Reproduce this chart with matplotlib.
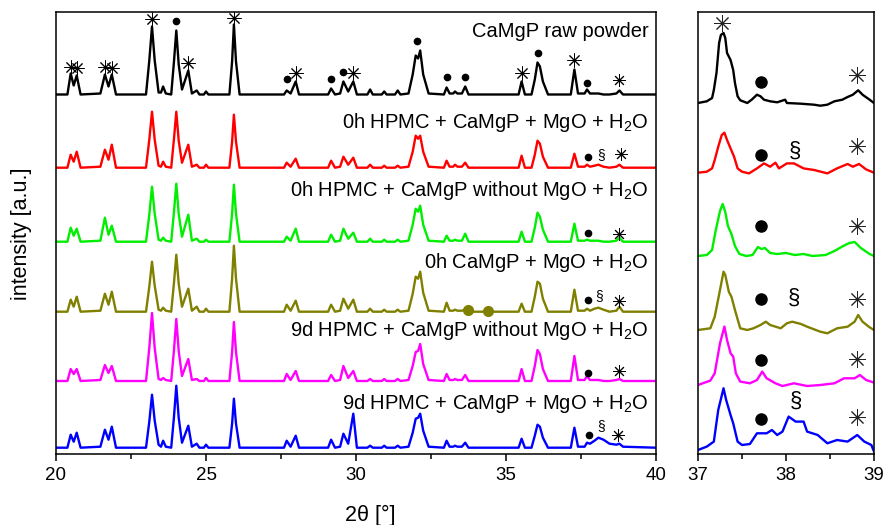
import numpy as np
import matplotlib
matplotlib.use("Agg")
import matplotlib.pyplot as plt

plt.rcParams['font.family'] = ['Liberation Sans', 'DejaVu Sans']
plt.rcParams['mathtext.fontset'] = 'custom'
plt.rcParams['mathtext.rm'] = 'Liberation Sans'

# ==========================
# Dati - pannello sinistro (20-40 deg), griglia comune
# ==========================
two_theta = [20.00, 20.38, 20.49, 20.59, 20.69, 20.82, 21.48, 21.63, 21.75, 21.86,
             22.00, 23.00, 23.11, 23.20, 23.29, 23.42, 23.50, 23.57, 23.66, 23.84,
             23.93, 24.01, 24.09, 24.20, 24.41, 24.53, 24.69, 24.78, 24.93, 25.00,
             25.08, 25.78, 25.87, 25.93, 26.00, 26.12, 27.60, 27.69, 27.82, 27.99,
             28.10, 29.07, 29.17, 29.30, 29.47, 29.58, 29.74, 29.91, 30.03, 30.38,
             30.47, 30.56, 30.86, 30.94, 31.02, 31.30, 31.39, 31.48, 31.75, 31.89,
             31.99, 32.07, 32.14, 32.24, 32.42, 32.93, 33.02, 33.12, 33.24, 33.30,
             33.38, 33.53, 33.64, 33.75, 35.42, 35.52, 35.63, 35.85, 35.96, 36.05,
             36.13, 36.23, 36.40, 37.16, 37.28, 37.40, 37.62, 37.70, 37.80, 37.95,
             38.08, 38.25, 38.45, 38.68, 38.78, 38.90, 40.00]

i_raw = [0, 0, 21, 9, 19, 0, 1, 20, 8, 20,
         0, 0, 34, 68, 34, 2, 2, 8, 1, 0,
         32, 64, 30, 5, 24, 1, 4, 0, 0, 3,
         0, 0, 33, 70, 33, 0, 0, 4, 1, 13,
         0, 0, 6, 0, 1, 13, 3, 13, 0, 0,
         5, 0, 0, 3, 0, 0, 4, 0, 1, 20,
         39, 36, 44, 20, 1, 0, 7, 1, 1, 3,
         1, 1, 8, 0, 0, 13, 0, 0, 15, 32,
         28, 13, 0, 0, 25, 1, 1, 5, 1, 1,
         1, 0, 0, 1, 4, 0, 0]
i_0h_hpmc_mgo = [0, 0, 13, 6, 16, 0, 1, 18, 8, 23,
                 0, 0, 28, 56, 28, 2, 1, 6, 1, 0,
                 28, 56, 27, 5, 23, 1, 3, 0, 0, 3,
                 0, 0, 26, 53, 26, 0, 0, 5, 1, 9,
                 0, 0, 7, 0, 1, 11, 3, 10, 0, 0,
                 3, 0, 0, 2, 0, 0, 2, 0, 1, 16,
                 32, 29, 32, 16, 1, 0, 7, 1, 1, 3,
                 1, 1, 5, 0, 0, 12, 0, 0, 13, 27,
                 24, 11, 0, 0, 14, 1, 1, 3, 1, 2,
                 3, 1, 0, 1, 3, 0, 0]
i_0h_hpmc_nomgo = [0, 0, 14, 6, 13, 0, 1, 24, 7, 16,
                   0, 0, 27, 55, 28, 2, 1, 4, 1, 0,
                   29, 58, 28, 5, 27, 1, 3, 0, 0, 2,
                   0, 0, 28, 57, 28, 0, 0, 5, 1, 13,
                   0, 0, 7, 0, 1, 13, 3, 9, 0, 0,
                   3, 0, 0, 2, 0, 0, 2, 0, 1, 17,
                   33, 30, 36, 17, 1, 0, 6, 1, 1, 2,
                   1, 1, 8, 0, 0, 10, 0, 0, 14, 29,
                   25, 12, 0, 0, 18, 1, 1, 2, 1, 1,
                   1, 0, 0, 1, 4, 0, 0]
i_0h_mgo = [0, 0, 12, 5, 15, 0, 1, 18, 7, 20,
            0, 0, 25, 50, 26, 2, 1, 4, 1, 0,
            28, 57, 28, 5, 23, 1, 5, 0, 0, 3,
            0, 0, 33, 66, 33, 0, 0, 7, 1, 11,
            0, 0, 7, 0, 1, 13, 3, 12, 0, 0,
            3, 0, 0, 2, 0, 0, 2, 0, 1, 18,
            35, 33, 40, 19, 1, 0, 9, 1, 1, 2,
            1, 1, 2, 0, 0, 8, 0, 0, 15, 30,
            28, 13, 0, 0, 22, 1, 1, 3, 1, 3,
            4, 2, 0, 1, 5, 0, 0]
i_9d_hpmc_nomgo = [0, 0, 12, 7, 12, 0, 1, 16, 8, 15,
                   0, 0, 33, 68, 33, 2, 1, 3, 1, 0,
                   30, 62, 30, 5, 22, 1, 2, 0, 0, 3,
                   0, 0, 29, 59, 29, 0, 0, 7, 1, 10,
                   0, 0, 6, 0, 1, 15, 3, 10, 0, 0,
                   2, 0, 0, 2, 0, 0, 2, 0, 1, 15,
                   29, 30, 37, 17, 1, 0, 7, 1, 1, 2,
                   1, 1, 6, 0, 0, 12, 0, 0, 15, 31,
                   27, 12, 0, 0, 25, 1, 1, 5, 1, 1,
                   1, 0, 0, 1, 2, 0, 0]
i_9d_hpmc_mgo = [0, 0, 13, 6, 15, 0, 1, 18, 8, 21,
                 0, 0, 26, 53, 27, 3, 1, 7, 1, 0,
                 30, 62, 30, 5, 22, 1, 4, 0, 0, 3,
                 0, 0, 24, 49, 24, 0, 0, 7, 1, 12,
                 0, 0, 8, 0, 1, 14, 4, 34, 0, 0,
                 2, 0, 0, 2, 0, 0, 2, 0, 1, 15,
                 29, 30, 34, 17, 1, 0, 7, 1, 1, 2,
                 1, 1, 5, 0, 0, 9, 0, 0, 12, 23,
                 21, 10, 0, 0, 20, 1, 1, 5, 4, 7,
                 10, 8, 4, 3, 4, 1, 0]

labels = ["CaMgP raw powder",
          "0h HPMC + CaMgP + MgO + H$_2$O",
          "0h HPMC + CaMgP without MgO + H$_2$O",
          "0h CaMgP + MgO + H$_2$O",
          "9d HPMC + CaMgP without MgO + H$_2$O",
          "9d HPMC + CaMgP + MgO + H$_2$O"]
colors = ['black', '#ff0000', '#00ee00', '#808000', '#ff00ff', '#0000ff']
left_series = [i_raw, i_0h_hpmc_mgo, i_0h_hpmc_nomgo, i_0h_mgo, i_9d_hpmc_nomgo, i_9d_hpmc_mgo]
left_offsets = [359.5, 286.3, 212.3, 142.3, 73.0, 6.3]
label_y = [417.3, 325.7, 258.3, 186.3, 118.3, 44.7]

# marcatori fasi (pannello sinistro)
ast_raw_x = [20.49, 20.69, 21.63, 21.86, 23.20, 24.41, 25.93, 27.99, 29.91, 35.52, 37.28]
ast_raw_y = [387.3, 385.7, 387.3, 386.3, 435.0, 391.3, 435.7, 380.7, 380.7, 380.7, 394.0]
dot_raw_x = [24.01, 27.69, 29.17, 29.58, 32.04, 33.02, 33.64, 36.05, 37.70]
dot_raw_y = [433.3, 375.0, 374.7, 381.7, 413.0, 376.7, 377.3, 401.3, 371.3]
ast_small_x = [38.78, 38.82, 38.78, 38.78, 38.75, 38.72]
ast_small_y = [374.0, 299.7, 219.7, 153.3, 83.3, 19.0]
dot_rows_x = [37.72, 37.72, 37.74, 37.74, 37.75]
dot_rows_y = [297.3, 220.7, 154.0, 81.3, 19.0]
sect_x = [38.16, 38.10, 38.17]
sect_y = [299.0, 158.0, 28.0]
olive_dot_x = [33.73, 34.40]
olive_dot_y = [144.0, 143.5]

# ==========================
# Dati - pannello destro (37-39 deg)
# ==========================
r_raw_x = [37.00, 37.10, 37.16, 37.18, 37.21, 37.24, 37.26, 37.29, 37.31, 37.33, 37.37, 37.40,
           37.42, 37.45, 37.48, 37.56, 37.61, 37.67, 37.71, 37.75, 37.82, 37.90, 37.99, 38.01,
           38.17, 38.32, 38.39, 38.47, 38.55, 38.64, 38.70, 38.76, 38.82, 38.87, 38.95, 39.00]
r_raw_y = [0, 1.7, 5, 13, 30, 60, 68, 70, 65, 50, 43, 33,
           20, 6.7, 2.7, 0, 3.3, 8.3, 6.7, 3.3, 1.7, 0.7, 3.3, 0,
           -0.7, -1.7, -2.7, -1.7, 1.7, 3.3, 6, 8.3, 12.7, 8.3, 3.3, 0]
r_red_x = [37.00, 37.10, 37.16, 37.19, 37.23, 37.27, 37.30, 37.33, 37.37, 37.41, 37.45, 37.50,
           37.58, 37.67, 37.75, 37.82, 37.88, 37.92, 38.01, 38.09, 38.20, 38.32, 38.47, 38.58,
           38.70, 38.76, 38.83, 38.91, 39.00]
r_red_y = [0, 1, 4.3, 12.7, 26, 37.7, 40, 32.7, 24.3, 16, 4.3, 1,
           -0.7, 4.3, 9.3, 6, 10, 4.3, 9.3, 9.3, 4.3, 2.7, -0.7, 4.3,
           8.7, 6, 8.7, 3.3, 0]
r_green_x = [37.00, 37.10, 37.16, 37.20, 37.25, 37.28, 37.31, 37.34, 37.38, 37.42, 37.47, 37.55,
             37.62, 37.68, 37.72, 37.76, 37.82, 37.90, 38.00, 38.10, 38.20, 38.30, 38.45, 38.55,
             38.65, 38.72, 38.78, 38.85, 38.95, 39.00]
r_green_y = [0, 1, 6, 25, 45, 52, 44, 30, 22, 10, 2, 0,
             1, 9, 7, 8, 3, 2, 3, 1, 2, 0, 1, 5,
             10, 13, 14, 8, 2, 0]
r_olive_x = [37.00, 37.14, 37.19, 37.25, 37.29, 37.31, 37.35, 37.38, 37.42, 37.48, 37.56, 37.63,
             37.71, 37.77, 37.82, 37.94, 38.01, 38.07, 38.17, 38.24, 38.39, 38.47, 38.58, 38.70,
             38.78, 38.82, 38.87, 38.95, 39.00]
r_olive_y = [0, 1.7, 13.3, 40, 58.3, 55, 38.3, 33.3, 20, 1.7, 0, 1.7,
             5, 8.3, 5, 1.7, 6.7, 8.3, 6, 3.3, -1.7, -3.3, 1.7, 3.3,
             8.3, 15, 8.3, 2.7, 0]
r_mag_x = [37.00, 37.14, 37.19, 37.25, 37.30, 37.33, 37.37, 37.40, 37.43, 37.48, 37.59, 37.67,
           37.73, 37.78, 37.88, 37.96, 38.09, 38.24, 38.39, 38.55, 38.66, 38.78, 38.84, 38.91,
           39.00]
r_mag_y = [-1.7, 2.7, 10, 40, 56.7, 43.3, 30, 26.7, 10, 1.7, 0, 3.3,
           11.7, 5, 0, -2.7, 0, -2.7, -1.7, 0, 5, 5, 8.3, 3.3,
           0.7]
r_blue_x = [37.00, 37.10, 37.18, 37.23, 37.29, 37.32, 37.37, 37.40, 37.45, 37.50, 37.59, 37.67,
            37.78, 37.84, 37.90, 37.96, 38.03, 38.11, 38.20, 38.24, 38.36, 38.47, 38.58, 38.70,
            38.81, 38.89, 38.97, 39.00]
r_blue_y = [-1.7, 1.7, 6.7, 38.3, 60, 48.3, 33.3, 25, 6.7, 3.3, 4.3, 15,
            15, 18.3, 13.3, 16.7, 31.7, 26.7, 26.7, 16.7, 13.3, 5, 8.3, 6.7,
            13.3, 6.7, 3.3, -3.3]
right_x = [r_raw_x, r_red_x, r_green_x, r_olive_x, r_mag_x, r_blue_x]
right_y = [r_raw_y, r_red_y, r_green_y, r_olive_y, r_mag_y, r_blue_y]
right_offsets = [351.0, 281.3, 198.0, 124.0, 70.7, 5.7]

r_ast_x = [37.27, 38.81, 38.81, 38.81, 38.81, 38.81, 38.81]
r_ast_y = [431.3, 379.0, 308.3, 228.0, 155.0, 95.0, 36.7]
r_dot_x = [37.72, 37.72, 37.72, 37.72, 37.72, 37.72]
r_dot_y = [372.3, 299.0, 228.3, 155.0, 94.0, 35.0]
r_sect_x = [38.10, 38.09, 38.11]
r_sect_y = [302.3, 155.7, 52.3]

# ==========================
# Figura
# ==========================
fig = plt.figure(figsize=(8.86, 5.25), dpi=100)
ax = fig.add_axes([56/886, 71/525, 600/886, 442/525])
ax2 = fig.add_axes([698/886, 71/525, 176/886, 442/525])

for ys, off, c in zip(left_series, left_offsets, colors):
    ax.plot(two_theta, np.array(ys) + off, color=c, lw=1.7, solid_joinstyle='round')
for xs, ys, off, c in zip(right_x, right_y, right_offsets, colors):
    ax2.plot(xs, np.array(ys) + off, color=c, lw=1.7, solid_joinstyle='round')

for lab, ly in zip(labels, label_y):
    ax.text(39.76, ly, lab, ha='right', va='baseline', fontsize=14.5)

star = (8, 2, 0)
ax.plot(ast_raw_x, ast_raw_y, ls='none', marker=star, ms=10, mew=0.7, color='k')
ax.plot(ast_small_x, ast_small_y, ls='none', marker=star, ms=9, mew=0.7, color='k')
ax.plot(dot_raw_x, dot_raw_y, ls='none', marker='o', ms=4.5, color='k')
ax.plot(dot_rows_x, dot_rows_y, ls='none', marker='o', ms=4.5, color='k')
ax.plot(olive_dot_x, olive_dot_y, ls='none', marker='o', ms=7, color='#808000')
for sx, sy in zip(sect_x, sect_y):
    ax.text(sx, sy, '§', ha='center', va='center', fontsize=10)

ax2.plot(r_ast_x, r_ast_y, ls='none', marker=star, ms=12, mew=0.7, color='#222222')
ax2.plot(r_dot_x, r_dot_y, ls='none', marker='o', ms=8, color='k')
for sx, sy in zip(r_sect_x, r_sect_y):
    ax2.text(sx, sy, '§', ha='center', va='center', fontsize=16)

ax.set_xlim(20, 40)
ax2.set_xlim(37, 39)
for a in (ax, ax2):
    a.set_ylim(0, 442)
    a.tick_params(axis='y', left=False, labelleft=False)
    a.tick_params(axis='x', direction='out', length=5, width=1.1, labelsize=13.5, pad=4)
    a.tick_params(axis='x', which='minor', direction='out', length=3.5, width=1.1)
    for s in a.spines.values():
        s.set_linewidth(1.1)
ax.set_xticks([20, 25, 30, 35, 40])
ax.set_xticks([22.5, 27.5, 32.5, 37.5], minor=True)
ax2.set_xticks([37, 38, 39])
ax2.set_xticks([37.5, 38.5], minor=True)

fig.text(22/886, 1 - 234/525, 'intensity [a.u.]', rotation=90, ha='center', va='center', fontsize=15.5)
fig.text(370/886, 1 - 515/525, '2θ [°]', ha='center', va='center', fontsize=15.5)

fig.savefig('out.png', dpi=100)
